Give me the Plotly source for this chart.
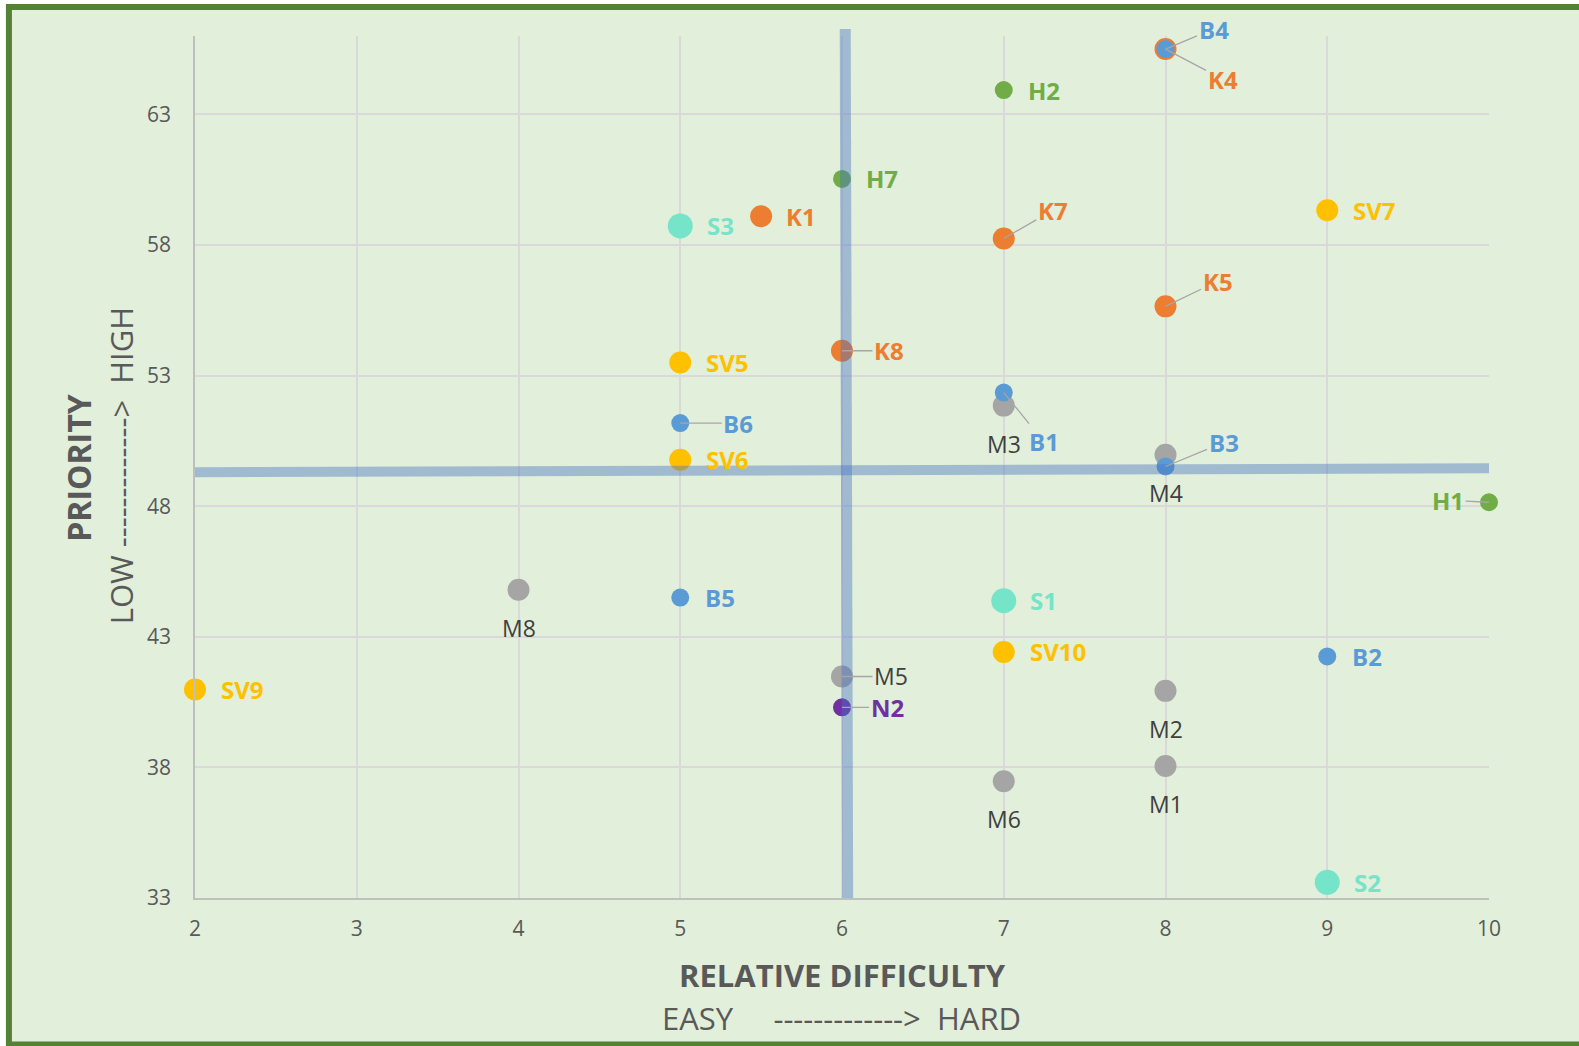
import plotly.graph_objects as go

# ---------------- data ----------------
K_names = ["K4", "K1", "K7", "K5", "K8"]
K_x = [8, 5.5, 7, 8, 6]
K_y = [65.5, 59.1, 58.25, 55.65, 53.95]

M_names = ["M3", "M4", "M8", "M5", "M2", "M6", "M1"]
M_x = [7, 8, 4, 6, 8, 7, 8]
M_y = [51.85, 49.97, 44.8, 41.48, 40.93, 37.47, 38.05]

B_names = ["B4", "B1", "B6", "B3", "B5", "B2"]
B_x = [8, 7, 5, 8, 5, 9]
B_y = [65.5, 52.35, 51.18, 49.52, 44.5, 42.25]

H_names = ["H2", "H7", "H1"]
H_x = [7, 6, 10]
H_y = [63.93, 60.53, 48.15]

SV_names = ["SV7", "SV5", "SV6", "SV10", "SV9"]
SV_x = [9, 5, 5, 7, 2]
SV_y = [59.33, 53.5, 49.78, 42.42, 40.98]

S_names = ["S3", "S1", "S2"]
S_x = [5, 7, 9]
S_y = [58.73, 44.38, 33.6]

N_names = ["N2"]
N_x = [6]
N_y = [40.3]

x_ticks = [2, 3, 4, 5, 6, 7, 8, 9, 10]
y_ticks = [33, 38, 43, 48, 53, 58, 63]

# quadrant dividers (difficulty at bottom/top, priority at left/right)
diff_divider = [6.035, 6.02]
prio_divider = [49.3, 49.45]

# ---------------- styles ----------------
groups = [
    # names, x, y, color, marker size, label color, bold
    (M_names, M_x, M_y, "#A5A5A5", 22, "#404040", False),
    (K_names, K_x, K_y, "#ED7D31", 22, "#ED7D31", True),
    (B_names, B_x, B_y, "#5B9BD5", 18, "#5B9BD5", True),
    (H_names, H_x, H_y, "#70AD47", 18, "#70AD47", True),
    (SV_names, SV_x, SV_y, "#FFC000", 22, "#FFC000", True),
    (S_names, S_x, S_y, "#76E4C8", 25, "#76E4C8", True),
    (N_names, N_x, N_y, "#7030A0", 18, "#7030A0", True),
]

# label offsets in pixels (dx right, dy down) for labels with leader lines
label_pos = {
    "B4": (48, -20), "K4": (57, 30), "K7": (49, -28),
    "K5": (52, -25), "K8": (47, 0), "B6": (58, 0),
    "B1": (40, 49), "B3": (58, -24), "H1": (-41, -2),
    "M5": (49, 0), "N2": (45, 0),
}
default_side = 40
below_dy = 38

fig = go.Figure()

for names, xs, ys, color, size, lcolor, bold in groups:
    fig.add_trace(go.Scatter(
        x=xs, y=ys, mode="markers", cliponaxis=False, showlegend=False,
        marker=dict(color=color, size=size, line=dict(width=0)),
        hoverinfo="text", text=names,
    ))
    for n, x, y in zip(names, xs, ys):
        txt = f"<b>{n}</b>" if bold else n
        font = dict(family="Open Sans", size=24 if bold else 23, color=lcolor)
        if n in label_pos:
            dx, dy = label_pos[n]
            fig.add_annotation(x=x, y=y, text=txt, showarrow=True, ax=dx, ay=dy,
                               arrowhead=0, arrowwidth=1.3, arrowcolor="#A6A6A6",
                               standoff=0, font=font, xanchor="center", yanchor="middle")
        elif not bold:
            fig.add_annotation(x=x, y=y, text=txt, showarrow=False, yshift=-below_dy,
                               font=font, xanchor="center", yanchor="middle")
        else:
            w = len(n)
            fig.add_annotation(x=x, y=y, text=txt, showarrow=False,
                               xshift=default_side + (w - 2) * 7, font=font,
                               xanchor="center", yanchor="middle")

# quadrant dividers
band = "rgba(68,114,196,0.42)"
fig.add_shape(type="line", xref="x", yref="paper", x0=diff_divider[0], y0=0,
              x1=diff_divider[1], y1=1.008, line=dict(color=band, width=11), layer="above")
fig.add_shape(type="line", xref="x", yref="y", x0=x_ticks[0], y0=prio_divider[0],
              x1=x_ticks[-1], y1=prio_divider[1], line=dict(color=band, width=10), layer="above")

# chart border / background
fig.add_shape(type="rect", xref="paper", yref="paper", x0=-0.1438, x1=1.08, y0=-0.170, y1=1.0337,
              fillcolor="#E2EFDA", line=dict(color="#548235", width=6), layer="below")

# axis titles
tfont = dict(family="Open Sans", color="#595959")
fig.add_annotation(xref="paper", yref="paper", x=0.5, y=-0.0888, showarrow=False,
                   text="<b>RELATIVE DIFFICULTY</b>", font=dict(size=31, **tfont),
                   xanchor="center", yanchor="middle")
fig.add_annotation(xref="paper", yref="paper", x=0.4995, y=-0.1387, showarrow=False,
                   text="EASY\u00a0\u00a0\u00a0\u00a0\u00a0------------->\u00a0\u00a0HARD",
                   font=dict(size=31, **tfont), xanchor="center", yanchor="middle")
fig.add_annotation(xref="paper", yref="paper", x=-0.09, y=0.4985, showarrow=False,
                   text="<b>PRIORITY</b>", textangle=-90, font=dict(size=32, **tfont),
                   xanchor="center", yanchor="middle")
fig.add_annotation(xref="paper", yref="paper", x=-0.0572, y=0.502, showarrow=False,
                   text="LOW\u00a0------------->\u00a0\u00a0HIGH", textangle=-90,
                   font=dict(size=31, **tfont), xanchor="center", yanchor="middle")

axis_common = dict(
    showgrid=True, gridcolor="#D9D9D9", gridwidth=1.5, zeroline=False,
    showline=True, linecolor="#BFBFBF", linewidth=1.5,
    ticks="outside", tickcolor="rgba(0,0,0,0)",
    tickfont=dict(family="Open Sans", size=21, color="#595959"),
)
fig.update_xaxes(range=[x_ticks[0], x_ticks[-1]], tickvals=x_ticks, ticklen=11, **axis_common)
fig.update_yaxes(range=[y_ticks[0], 66], tickvals=y_ticks, ticklen=18, **axis_common)

fig.update_layout(
    width=1579, height=1046,
    margin=dict(l=195, r=90, t=36, b=148),
    paper_bgcolor="white", plot_bgcolor="rgba(0,0,0,0)",
    showlegend=False,
)

fig.write_html("out.html", config={"displayModeBar": False},
               post_script="document.body.style.margin='0';document.body.style.overflow='hidden';")
